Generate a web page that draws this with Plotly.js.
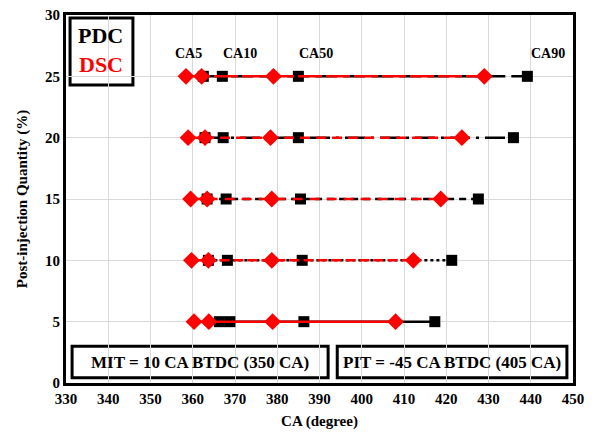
<!DOCTYPE html>
<html><head><meta charset="utf-8">
<script src="https://cdn.plot.ly/plotly-3.0.1.min.js"></script>
<style>html,body{margin:0;padding:0;background:#fff}#chart{width:602px;height:436px}</style>
</head><body><div id="chart"></div>
<script>
const qty = [5, 10, 15, 20, 25];
const pdcCA5  = [366.3, 363.7, 363.4, 362.9, 362.5];
const pdcCA10 = [368.8, 368.2, 367.9, 367.2, 367.0];
const pdcCA50 = [386.3, 385.9, 385.5, 385.0, 385.0];
const pdcCA90 = [417.3, 421.3, 427.6, 435.9, 439.2];
const dscCA5  = [360.3, 359.7, 359.5, 358.9, 358.4];
const dscCA10 = [363.8, 363.7, 363.4, 362.9, 362.1];
const dscCA50 = [378.9, 378.7, 378.7, 378.4, 379.1];
const dscCA90 = [408.0, 412.2, 418.7, 423.7, 429.0];
const caLabels = ['CA5', 'CA10', 'CA50', 'CA90'];
const caLabelX = [358.9, 371.2, 389.2, 444.1];
const caLabelY = 26.9;

const pdcDash = ['solid', '3px,3px', '7px,5px', '20px,6px,3px,6px', '22px,6px'];
const dscDash = ['solid', '10px,4px', '10px,7px', '10px,6px', '24px,4px'];

const traces = [];
qty.forEach((q, i) => {
  traces.push({
    x: [pdcCA5[i], pdcCA10[i], pdcCA50[i], pdcCA90[i]], y: [q, q, q, q],
    mode: 'lines+markers', type: 'scatter', showlegend: false, cliponaxis: false,
    line: {color: '#000000', width: 2.5, dash: pdcDash[i]},
    marker: {symbol: 'square', size: 11, color: '#000000'}
  });
});
qty.forEach((q, i) => {
  traces.push({
    x: [dscCA5[i], dscCA10[i], dscCA50[i], dscCA90[i]], y: [q, q, q, q],
    mode: 'lines+markers', type: 'scatter', showlegend: false, cliponaxis: false,
    line: {color: '#ff0000', width: 2.5, dash: dscDash[i]},
    marker: {symbol: 'diamond', size: 13, color: '#ff0000'}
  });
});

const serif = 'Liberation Serif, Times New Roman, serif';
const annotations = caLabels.map((t, i) => ({
  x: caLabelX[i], y: caLabelY, xref: 'x', yref: 'y', text: '<b>' + t + '</b>',
  xanchor: 'center', yanchor: 'middle',
  showarrow: false, font: {family: serif, size: 14, color: '#000'}
}));
const pa = (x, y, text, size, color) => ({x: x, y: y, xref: 'paper', yref: 'paper', text: text,
  xanchor: 'center', yanchor: 'middle', showarrow: false, font: {family: serif, size: size, color: color}});
annotations.push(
  pa(0.069, 0.944, '<b>PDC</b>', 22, '#000'),
  pa(0.069, 0.866, '<b>DSC</b>', 22, '#ff0000'),
  pa(0.264, 0.057, '<b>MIT = 10 CA BTDC (350 CA)</b>', 17, '#000'),
  pa(0.761, 0.057, '<b>PIT = -45 CA BTDC (405 CA)</b>', 17, '#000')
);

const shapes = [
  {type: 'rect', xref: 'paper', yref: 'paper', x0: 0.008, x1: 0.132, y0: 0.810, y1: 0.992,
   line: {color: '#000', width: 3}, fillcolor: 'rgba(255,255,255,1)', layer: 'below'},
  {type: 'rect', xref: 'paper', yref: 'paper', x0: 0.012, x1: 0.517, y0: 0.014, y1: 0.100,
   line: {color: '#000', width: 3}, fillcolor: 'rgba(255,255,255,1)', layer: 'below'},
  {type: 'rect', xref: 'paper', yref: 'paper', x0: 0.535, x1: 0.988, y0: 0.014, y1: 0.100,
   line: {color: '#000', width: 3}, fillcolor: 'rgba(255,255,255,1)', layer: 'below'}
];

const layout = {
  width: 602, height: 436,
  margin: {l: 66, r: 29, t: 15, b: 53},
  paper_bgcolor: '#fff', plot_bgcolor: '#fff',
  font: {family: serif, color: '#000'},
  xaxis: {
    range: [330, 450], dtick: 10, tick0: 330,
    showgrid: true, gridcolor: '#d9d9d9', gridwidth: 1, zeroline: false,
    showline: true, linecolor: '#000', linewidth: 3, mirror: true, ticks: '',
    tickprefix: '<b>', ticksuffix: '</b>',
    tickfont: {family: serif, size: 15, color: '#000'},
    title: {text: '<b>CA (degree)</b>', font: {family: serif, size: 15, color: '#000'}, standoff: 10}
  },
  yaxis: {
    range: [0, 30], dtick: 5,
    showgrid: true, gridcolor: '#d9d9d9', gridwidth: 1, zeroline: false,
    showline: true, linecolor: '#000', linewidth: 3, mirror: true, ticks: '',
    tickprefix: '<b>', ticksuffix: '</b>',
    tickfont: {family: serif, size: 15, color: '#000'},
    title: {text: '<b>Post-injection Quantity (%)</b>', font: {family: serif, size: 15, color: '#000'}, standoff: 14}
  },
  annotations: annotations,
  shapes: shapes
};

Plotly.newPlot('chart', traces, layout, {displayModeBar: false, staticPlot: true});
</script></body></html>
